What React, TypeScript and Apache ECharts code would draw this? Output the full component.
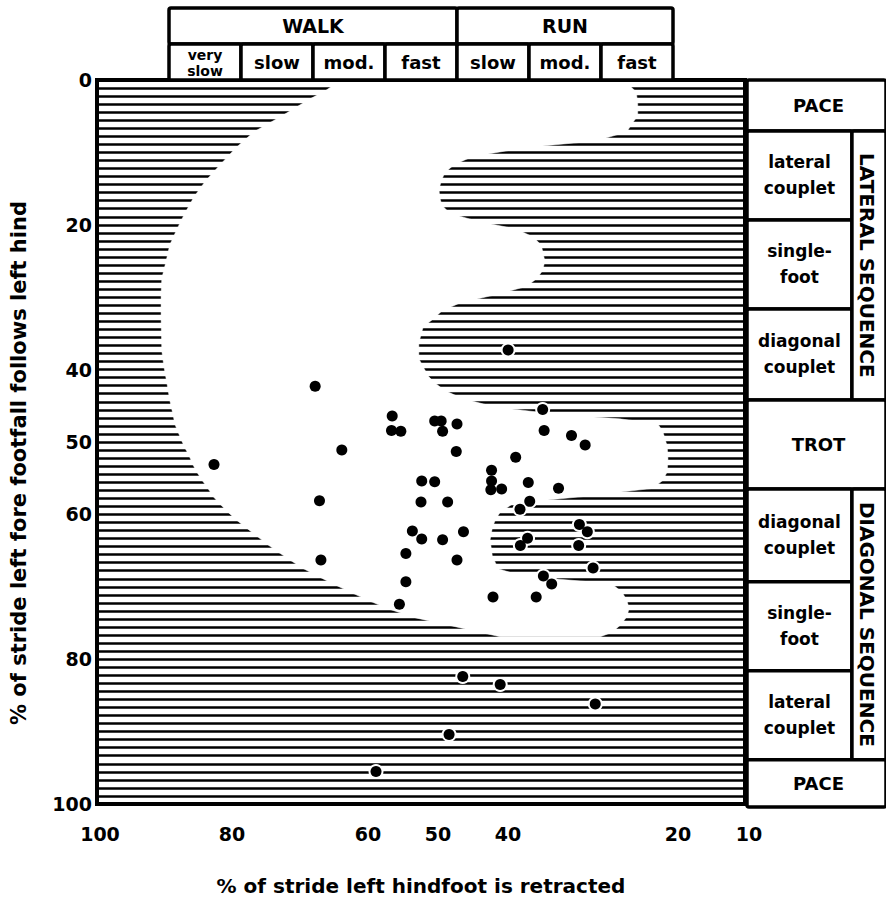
import React, { useEffect, useRef } from "react";
import * as echarts from "echarts";

// ---- data ----
const retracted = [69.7, 59.0, 59.1, 57.8, 53.1, 52.2, 52.0, 50.0, 38.1, 66.0, 50.1, 37.9, 34.1, 32.2, 83.75, 41.85, 45.2, 45.2, 45.3, 43.8, 40.1, 35.9, 54.9, 53.1, 69.1, 55.0, 51.3, 39.9, 41.25, 56.2, 54.9, 52.0, 49.1, 33.0, 31.9, 40.2, 41.2, 33.1, 68.9, 57.1, 50.0, 31.1, 57.1, 38.0, 36.85, 58.0, 45.0, 39.0, 42.9, 49.2, 44.0, 30.8, 51.1, 61.25];
const follows = [42.3, 46.4, 48.4, 48.5, 47.1, 47.1, 48.5, 47.5, 45.5, 51.1, 51.3, 48.4, 49.1, 50.4, 53.1, 52.1, 53.9, 55.4, 56.6, 56.5, 55.6, 56.4, 55.4, 55.5, 58.1, 58.3, 58.3, 58.2, 59.3, 62.3, 63.4, 63.5, 62.4, 61.4, 62.4, 63.3, 64.3, 64.3, 66.3, 65.4, 66.3, 67.4, 69.3, 68.5, 69.6, 72.4, 71.4, 71.4, 37.3, 82.4, 83.5, 86.2, 90.4, 95.5];

const xTickLabels = [100, 80, 60, 50, 40, 20, 10];
const yTickLabels = [0, 20, 40, 50, 60, 80, 100];

// outline of the open (unshaded) region
const blobRetracted = [66.7, 26.4, 25.1, 24.9, 24.9, 25.7, 26.4, 30.6, 40.6, 47.9, 50.4, 51.7, 52.2, 52.5, 52.4, 52.1, 51.0, 47.2, 41.7, 39.4, 38.3, 37.8, 38.1, 38.9, 40.3, 44.4, 49.6, 52.1, 53.3, 54.7, 55.3, 55.3, 54.7, 54.0, 53.1, 51.7, 49.2, 45.0, 36.1, 27.4, 22.1, 21.4, 20.8, 20.7, 20.8, 21.4, 22.8, 32.2, 42.2, 44.0, 44.7, 45.1, 45.4, 45.1, 44.3, 41.0, 32.9, 28.5, 27.1, 26.4, 26.1, 26.4, 27.2, 28.5, 30.1, 44.0, 50.7, 55.7, 59.7, 62.5, 64.9, 67.4, 69.4, 71.5, 73.2, 75.0, 76.4, 77.8, 79.2, 80.6, 81.8, 82.9, 83.9, 84.6, 85.4, 86.1, 86.7, 87.2, 87.8, 88.3, 88.75, 89.2, 89.4, 89.9, 90.3, 90.7, 91.0, 91.1, 91.1, 91.0, 90.4, 89.9, 88.9, 87.8, 86.5, 84.9, 82.9, 80.7, 78.2, 74.3, 70.4, 68.3];
const blobFollows = [0.4, 0.4, 1.65, 3.3, 4.95, 6.05, 7.15, 8.4, 9.35, 10.6, 11.7, 12.8, 14.0, 15.1, 16.2, 17.3, 18.4, 19.5, 20.6, 21.7, 22.8, 25.0, 26.3, 27.4, 28.5, 29.6, 30.8, 31.9, 33.0, 34.1, 36.3, 38.5, 39.6, 40.9, 41.8, 42.9, 44.0, 45.1, 46.2, 46.8, 47.5, 48.6, 50.6, 52.3, 54.1, 55.3, 56.4, 57.5, 58.5, 59.7, 60.8, 61.9, 63.5, 65.7, 67.5, 68.5, 69.2, 69.6, 70.7, 71.9, 73.0, 74.1, 75.2, 76.3, 76.9, 76.9, 75.4, 74.3, 73.0, 71.8, 70.7, 69.5, 68.5, 67.4, 66.3, 65.1, 64.1, 63.0, 61.9, 60.8, 59.7, 58.6, 57.5, 56.4, 55.3, 54.2, 53.1, 51.9, 50.8, 49.7, 48.6, 47.5, 46.4, 44.2, 41.8, 39.6, 37.4, 33.0, 29.6, 27.4, 25.0, 22.8, 20.6, 18.4, 16.1, 13.9, 11.7, 9.35, 7.15, 4.95, 2.6, 1.5];

// header (x = % retracted)
const walkRunNames = ["WALK", "RUN"];
const walkRunFrom = [90, 50];
const walkRunTo = [50, 20];
const speedNames = ["very\nslow", "slow", "mod.", "fast", "slow", "mod.", "fast"];
const speedFrom = [90, 80, 70, 60, 50, 40, 30];
const speedTo = [80, 70, 60, 50, 40, 30, 20];

// right-hand gait table (y = % follows)
const gaitNames = ["PACE", "lateral\ncouplet", "single-\nfoot", "diagonal\ncouplet", "LATERAL SEQUENCE", "TROT", "diagonal\ncouplet", "single-\nfoot", "lateral\ncouplet", "DIAGONAL SEQUENCE", "PACE"];
const gaitFrom = [0, 7, 19.25, 31.5, 7, 44, 56.25, 69, 81.25, 56.25, 93.5];
const gaitTo = [7, 19.25, 31.5, 44, 44, 56.25, 69, 81.25, 93.5, 93.5, 100];
const gaitColumn = ["full", "left", "left", "left", "right", "full", "left", "left", "left", "right", "full"];

// ---- styling ----
const FAMILY = '"DejaVu Sans", sans-serif';
const font = (size: number) => `bold ${size}px ${FAMILY}`;
const columnRange: Record<string, [number, number]> = {
  full: [0, 1],
  left: [0, 0.755],
  right: [0.755, 1],
};
const xLabelShift: Record<number, number> = { 100: 3, 80: -9, 60: -17, 50: -19, 40: -21, 20: 5, 10: 4 };

function buildOption() {
  const labelRich: Record<string, any> = {};
  xTickLabels.forEach((v) => {
    const s = xLabelShift[v] || 0;
    labelRich["s" + v] = {
      fontFamily: FAMILY,
      fontWeight: "bold",
      fontSize: 19,
      color: "#000",
      padding: s < 0 ? [0, -2 * s, 0, 0] : [0, 0, 0, 2 * s],
    };
  });

  const headerData = walkRunNames
    .map((_, i) => [walkRunFrom[i], 0, walkRunTo[i], 1])
    .concat(speedNames.map((_, i) => [speedFrom[i], 1, speedTo[i], 2]));
  const headerLabels = [...walkRunNames, ...speedNames];

  const gaitData = gaitNames.map((_, i) => {
    const r = columnRange[gaitColumn[i]];
    return [r[0], gaitFrom[i], r[1], gaitTo[i]];
  });

  const cellRender = (labels: string[], kind: "header" | "table") => (params: any, api: any) => {
    const i = params.dataIndex;
    const p0 = api.coord([api.value(0), api.value(1)]);
    const p1 = api.coord([api.value(2), api.value(3)]);
    const x = Math.min(p0[0], p1[0]);
    const y = Math.min(p0[1], p1[1]);
    const w = Math.abs(p1[0] - p0[0]);
    const h = Math.abs(p1[1] - p0[1]);
    const label = labels[i];
    let size = 18;
    let lineHeight = 26;
    let rotation = 0;
    let cx = x + w / 2;
    let cy = y + h / 2;
    if (kind === "header") {
      size = i < 2 ? 19 : 18;
      if (label.indexOf("\n") >= 0) {
        size = 14;
        lineHeight = 16;
        cy += 1;
      }
    } else {
      const upper = label === label.toUpperCase();
      size = upper ? 18 : 17;
      if (label.indexOf(" ") >= 0) {
        rotation = -Math.PI / 2;
        size = 20;
        cx = x + (Math.min(x + w, 886) - x) / 2 - 2;
      } else if (gaitColumn[i] === "full") {
        cx = x + (Math.min(x + w, 886) - x) / 2 + 2;
      }
    }
    return {
      type: "group",
      children: [
        {
          type: "rect",
          shape: { x, y, width: w, height: h, r: 2 },
          style: { fill: "#fff", stroke: "#000", lineWidth: 3.5 },
        },
        {
          type: "text",
          x: cx,
          y: cy,
          rotation,
          style: {
            text: label,
            align: "center",
            verticalAlign: "middle",
            font: font(size),
            lineHeight,
            fill: "#000",
          },
        },
      ],
    };
  };

  return {
    animation: false,
    backgroundColor: "#fff",
    grid: [
      { left: 97, top: 80, width: 648, height: 727, show: true, borderColor: "#000", borderWidth: 4, backgroundColor: "transparent" },
      { left: 97, top: 8, width: 648, height: 72 },
      { left: 747, top: 80, width: 141, height: 727 },
    ],
    xAxis: [
      {
        gridIndex: 0,
        type: "value",
        min: 10,
        max: 100,
        interval: 10,
        inverse: true,
        axisLine: { show: false },
        axisTick: { show: false },
        splitLine: { show: false },
        axisLabel: {
          margin: 20,
          fontFamily: FAMILY,
          fontWeight: "bold",
          fontSize: 19,
          color: "#000",
          formatter: (v: number) => (xTickLabels.indexOf(v) >= 0 ? `{s${v}|${v}}` : ""),
          rich: labelRich,
        },
        name: "% of stride left hindfoot is retracted",
        nameLocation: "middle",
        nameGap: 72,
        nameTextStyle: { fontFamily: FAMILY, fontWeight: "bold", fontSize: 20, color: "#000" },
      },
      { gridIndex: 1, type: "value", min: 10, max: 100, inverse: true, show: false },
      { gridIndex: 2, type: "value", min: 0, max: 1, show: false },
    ],
    yAxis: [
      {
        gridIndex: 0,
        type: "value",
        min: 0,
        max: 100,
        interval: 10,
        inverse: true,
        axisLine: { show: false },
        axisTick: { show: false },
        splitLine: { show: false },
        axisLabel: {
          margin: 5,
          fontFamily: FAMILY,
          fontWeight: "bold",
          fontSize: 19,
          color: "#000",
          formatter: (v: number) => (yTickLabels.indexOf(v) >= 0 ? String(v) : ""),
        },
        name: "% of stride left fore footfall follows left hind",
        nameLocation: "middle",
        nameRotate: 90,
        nameGap: 68,
        nameTextStyle: { fontFamily: FAMILY, fontWeight: "bold", fontSize: 21, color: "#000", padding: [0, 42, 0, 0] },
      },
      {
        gridIndex: 0,
        type: "value",
        position: "right",
        min: 0,
        max: 100,
        interval: 100 / 90,
        inverse: true,
        axisLine: { show: false },
        axisTick: { show: false },
        axisLabel: { show: false },
        splitLine: { show: true, lineStyle: { color: "#000", width: 2.5 } },
      },
      { gridIndex: 1, type: "value", min: 0, max: 2, inverse: true, show: false },
      { gridIndex: 2, type: "value", min: 0, max: 100, inverse: true, show: false },
    ],
    series: [
      {
        type: "custom",
        xAxisIndex: 0,
        yAxisIndex: 0,
        z: 2,
        silent: true,
        clip: false,
        data: [[50, 50]],
        renderItem: (_params: any, api: any) => ({
          type: "polygon",
          shape: { points: blobRetracted.map((x, i) => api.coord([x, blobFollows[i]])) },
          style: { fill: "#fff", stroke: "#fff", lineWidth: 0.5 },
        }),
      },
      {
        type: "scatter",
        xAxisIndex: 0,
        yAxisIndex: 0,
        z: 3,
        silent: true,
        symbolSize: 15,
        itemStyle: { color: "#fff", opacity: 1 },
        data: retracted.map((x, i) => [x, follows[i]]),
      },
      {
        type: "scatter",
        xAxisIndex: 0,
        yAxisIndex: 0,
        z: 4,
        silent: true,
        symbolSize: 11,
        itemStyle: { color: "#000", opacity: 1 },
        data: retracted.map((x, i) => [x, follows[i]]),
      },
      {
        type: "custom",
        xAxisIndex: 1,
        yAxisIndex: 2,
        z: 5,
        silent: true,
        clip: false,
        data: headerData,
        renderItem: cellRender(headerLabels, "header"),
      },
      {
        type: "custom",
        xAxisIndex: 2,
        yAxisIndex: 3,
        z: 5,
        silent: true,
        clip: false,
        data: gaitData,
        renderItem: cellRender(gaitNames, "table"),
      },
    ],
  };
}

export default function App() {
  const ref = useRef<HTMLDivElement>(null);
  useEffect(() => {
    const chart = echarts.init(ref.current!, null, { renderer: "svg" });
    chart.setOption(buildOption() as any);
    return () => chart.dispose();
  }, []);
  return (
    <div
      ref={ref}
      style={{ position: "absolute", left: 0, top: 0, width: 886, height: 901, background: "#fff" }}
    />
  );
}
